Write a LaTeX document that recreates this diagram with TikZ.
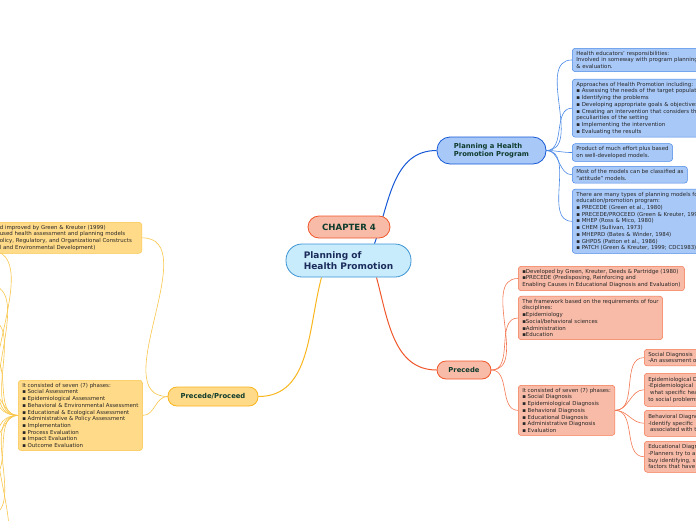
\documentclass[tikz,border=0pt]{standalone}
\usepackage{fontspec}
\setmainfont{DejaVu Sans}
\usetikzlibrary{positioning}

\definecolor{rootfill}{HTML}{C8ECFB}
\definecolor{rootline}{HTML}{3C93D4}
\definecolor{rootnavy}{HTML}{1B2C5C}
\definecolor{titletxt}{HTML}{0D3B2C}
\definecolor{bluefill}{HTML}{A8C8F7}
\definecolor{blueline}{HTML}{4A88E6}
\definecolor{bluelink}{HTML}{1558D6}
\definecolor{redfill}{HTML}{F8BBA8}
\definecolor{redline}{HTML}{F47650}
\definecolor{redlink}{HTML}{F0562A}
\definecolor{yelfill}{HTML}{FFDA89}
\definecolor{yelline}{HTML}{F8C64A}
\definecolor{yellink}{HTML}{F9B51C}

\pgfdeclarelayer{back}
\pgfsetlayers{back,main}

\tikzset{
  topic/.style={rounded corners=9pt, line width=0.8pt, text=titletxt,
    font=\bfseries\fontsize{6.8}{8}\selectfont, align=left, inner sep=0pt},
  note/.style={rounded corners=3pt, line width=0.5pt, text=black!85,
    font=\fontsize{5.45}{6.7}\selectfont, align=left, inner xsep=4pt, inner ysep=2.9pt},
  bluenote/.style={note, draw=blueline, fill=bluefill},
  rednote/.style={note, draw=redline, fill=redfill},
  yelnote/.style={note, draw=yelline, fill=yelfill},
  blink/.style={blueline, line width=0.6pt},
  rlink/.style={redline, line width=0.6pt},
  ylink/.style={yelline, line width=0.6pt},
}

\begin{document}
\begin{tikzpicture}[x=1pt, y=1pt]
  \path[use as bounding box] (0,0) rectangle (696,-520);
  \clip (0,0) rectangle (696,-520);

  % central topics
  \node[topic, draw=rootline, fill=rootfill, rounded corners=16pt, minimum width=125pt,
    minimum height=33pt, text=rootnavy, font=\bfseries\fontsize{9}{11}\selectfont]
    (health) at (348.5,-260.5) {Planning of\\Health Promotion};
  \node[topic, draw=redlink, fill=redfill, rounded corners=11pt, minimum width=82pt,
    minimum height=22pt, font=\bfseries\fontsize{8.6}{10}\selectfont]
    (chapter) at (349,-227) {CHAPTER 4};

  \node[topic, draw=bluelink, fill=bluefill, rounded corners=13pt, minimum width=109pt,
    minimum height=27pt] (program) at (491.5,-150.5) {Planning a Health\\Promotion Program};
  \node[topic, draw=redlink, fill=redfill, minimum width=54pt, minimum height=18pt]
    (precede) at (464,-370) {Precede};
  \node[topic, draw=yellink, fill=yelfill, minimum width=90pt, minimum height=19pt]
    (proceed) at (213,-396.5) {Precede/Proceed};

  % planning program notes
  \node[bluenote, text width=150pt, anchor=north west] (duties) at (572,-48)
    {Health educators' responsibilities:\\
     Involved in someway with program planning\\
     \& evaluation.};
  \node[bluenote, text width=150pt, below=7pt of duties.south west, anchor=north west] (approach)
    {Approaches of Health Promotion including:\\
     ▪ Assessing the needs of the target population\\
     ▪ Identifying the problems\\
     ▪ Developing appropriate goals \& objectives\\
     ▪ Creating an intervention that considers the\\
     peculiarities of the setting\\
     ▪ Implementing the intervention\\
     ▪ Evaluating the results};
  \node[bluenote, below=6pt of approach.south west, anchor=north west] (effort)
    {Product of much effort plus based\\
     on well-developed models.};
  \node[bluenote, below=4.5pt of effort.south west, anchor=north west] (attitude)
    {Most of the models can be classified as\\
     "attitude" models.};
  \node[bluenote, text width=150pt, below=5.5pt of attitude.south west, anchor=north west] (types)
    {There are many types of planning models for\\
     education/promotion program:\\
     ▪ PRECEDE (Green et al., 1980)\\
     ▪ PRECEDE/PROCEED (Green \& Kreuter, 1991)\\
     ▪ MHEP (Ross \& Mico, 1980)\\
     ▪ CHEM (Sullivan, 1973)\\
     ▪ MHEPRD (Bates \& Winder, 1984)\\
     ▪ GHPDS (Patton et al., 1986)\\
     ▪ PATCH (Green \& Kreuter, 1999; CDC1983)};

  % precede notes
  \node[rednote, anchor=north west] (developed) at (518,-266)
    {▪Developed by Green, Kreuter, Deeds \& Partridge (1980)\\
     ▪PRECEDE (Predisposing, Reinforcing and\\
     Enabling Causes in Educational Diagnosis and Evaluation)};
  \node[rednote, below=5pt of developed.south west, anchor=north west] (framework)
    {The framework based on the requirements of four\\
     disciplines:\\
     ▪Epidemiology\\
     ▪Social/behavioral sciences\\
     ▪Administration\\
     ▪Education};
  \node[rednote, anchor=north west] (phases) at (518,-385)
    {It consisted of seven (7) phases:\\
     ▪ Social Diagnosis\\
     ▪ Epidemiological Diagnosis\\
     ▪ Behavioral Diagnosis\\
     ▪ Educational Diagnosis\\
     ▪ Administrative Diagnosis\\
     ▪ Evaluation};

  \node[rednote, text width=80pt, anchor=north west] (social) at (644,-349)
    {Social Diagnosis\\
     -An assessment of};
  \node[rednote, text width=80pt, anchor=north west, minimum height=33pt] (epidem) at (644,-373)
    {Epidemiological Diagnosis\\
     -Epidemiological\\
     \ what specific health\\
     to social problems};
  \node[rednote, text width=80pt, anchor=north west, minimum height=26pt] (behav) at (644,-410)
    {Behavioral Diagnosis\\
     -Identify specific\\
     \ associated with the};
  \node[rednote, text width=80pt, anchor=north west, minimum height=31pt] (educ) at (644,-441)
    {Educational Diagnosis\\
     -Planners try to a\\
     buy identifying, s\\
     factors that have};

  % precede/proceed notes
  \node[yelnote, text width=138pt, anchor=north east] (improved) at (142,-222)
    {d improved by Green \& Kreuter (1999)\\
     used health assessment and planning models\\
     olicy, Regulatory, and Organizational Constructs\\
     l and Environmental Development)};
  \node[yelnote, anchor=north west] (seven) at (18,-380)
    {It consisted of seven (7) phases:\\
     ▪ Social Assessment\\
     ▪ Epidemiological Assessment\\
     ▪ Behavioral \& Environmental Assessment\\
     ▪ Educational \& Ecological Assessment\\
     ▪ Administrative \& Policy Assessment\\
     ▪ Implementation\\
     ▪ Process Evaluation\\
     ▪ Impact Evaluation\\
     ▪ Outcome Evaluation};

  \foreach \i/\y in {1/250,2/285,3/320,4/355,5/392,6/440,7/478,8/515,9/560}
    \coordinate (off\i) at (-12,-\y);

  \begin{pgfonlayer}{back}
    \draw[bluelink, line width=1pt] ([xshift=26pt]health.north) to[out=70,in=180] (program.west);
    \draw[redlink, line width=1pt] ([xshift=28pt]health.south) to[out=-75,in=180] (precede.west);
    \draw[yellink, line width=1pt] ([xshift=-27pt]health.south) to[out=-105,in=0] (proceed.east);

    \foreach \n in {duties,approach,effort,attitude,types}
      \draw[blink] (program.east) to[out=0,in=180] (\n.west);
    \foreach \n in {developed,framework,phases}
      \draw[rlink] (precede.east) to[out=0,in=180] (\n.west);
    \foreach \n in {social,epidem,behav,educ}
      \draw[rlink] (phases.east) to[out=0,in=180] (\n.west);
    \foreach \n in {improved,seven}
      \draw[ylink] (proceed.west) to[out=180,in=0] (\n.east);
    \foreach \i in {1,...,9}
      \draw[ylink] (seven.west) to[out=180,in=0] (off\i);
  \end{pgfonlayer}
\end{tikzpicture}
\end{document}
